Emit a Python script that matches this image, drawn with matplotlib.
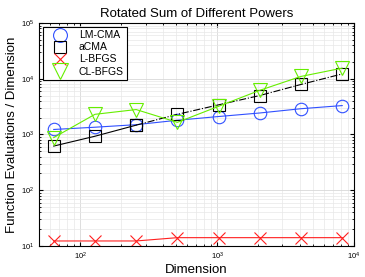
import matplotlib
matplotlib.use('Agg')
import matplotlib.pyplot as plt
import matplotlib.lines as mlines

plt.rcParams.update({
    'font.family': ['Liberation Sans', 'DejaVu Sans'],
})

# data
dims = [64, 128, 256, 512, 1024, 2048, 4096, 8192]
lmcma = [1230, 1350, 1500, 1800, 2100, 2430, 2900, 3300]
acma = [620, 930, 1470, 2300, 3400, 5000, 7900, 12200]
lbfgs = [12.3, 12.3, 12.3, 14.1, 14.1, 14.1, 14.1, 14.1]
clbfgs = [880, 2300, 2800, 1650, 3200, 6200, 11000, 15500]
names = ['LM-CMA', 'aCMA', 'L-BFGS', 'CL-BFGS']

C_LM = '#3050ff'
C_AC = 'black'
C_LB = '#ff2020'
C_CL = '#66ee00'

fig = plt.figure(figsize=(3.65, 2.77), dpi=100)
ax = fig.add_axes([0.107, 0.112, 0.863, 0.805])

ms = 9
ax.plot(dims, lmcma, color=C_LM, lw=0.8, marker='o', ms=ms, mfc='none', mew=0.8)
ax.plot(dims[:3], acma[:3], color=C_AC, lw=0.8, marker='s', ms=ms, mfc='none', mew=0.8)
ax.plot(dims[2:], acma[2:], color=C_AC, lw=0.8, ls='-.', marker='s', ms=ms, mfc='none', mew=0.8)
ax.plot(dims, lbfgs, color=C_LB, lw=0.8, marker='x', ms=ms, mew=0.8)
ax.plot(dims, clbfgs, color=C_CL, lw=0.8, marker='v', ms=ms + 1, mfc='none', mew=0.8)

ax.set_xscale('log')
ax.set_yscale('log')
ax.set_xlim(50, 1e4)
ax.set_ylim(10, 1e5)

ax.grid(True, which='major', color='#d8d8d8', lw=0.6)
ax.grid(True, which='minor', color='#e8e8e8', lw=0.5)
ax.set_axisbelow(True)
ax.tick_params(which='both', direction='in', top=True, right=True, labelsize=5.5, length=3)
ax.tick_params(which='minor', length=1.5)
for s in ax.spines.values():
    s.set_linewidth(0.8)

ax.set_title('Rotated Sum of Different Powers', fontsize=9.5, pad=4)
ax.set_xlabel('Dimension', fontsize=9.5, labelpad=1)
ax.set_ylabel('Function Evaluations / Dimension', fontsize=9.5, labelpad=2)

# legend: markers only
handles = [
    mlines.Line2D([], [], ls='none', color=C_LM, marker='o', ms=10, mfc='none', mew=0.8),
    mlines.Line2D([], [], ls='none', color=C_AC, marker='s', ms=9, mfc='none', mew=0.8),
    mlines.Line2D([], [], ls='none', color=C_LB, marker='x', ms=9, mew=0.8),
    mlines.Line2D([], [], ls='none', color=C_CL, marker='v', ms=11, mfc='none', mew=0.8),
]
leg = ax.legend(handles, names, loc='upper left', fontsize=7.5, frameon=True, fancybox=False,
                edgecolor='black', framealpha=1, borderpad=0.3, labelspacing=0.2,
                handlelength=2.6, handletextpad=0.5, borderaxespad=0.4, numpoints=1)
leg.get_frame().set_linewidth(0.8)

fig.savefig('out.png', dpi=100)
